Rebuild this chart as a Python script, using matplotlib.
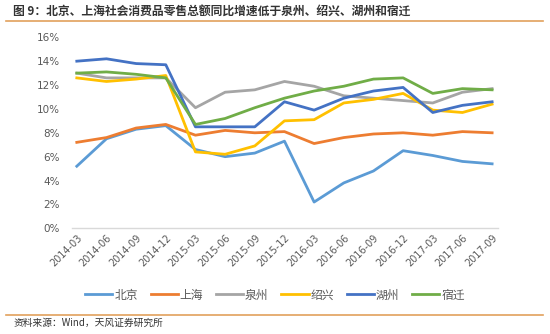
import matplotlib
matplotlib.use("Agg")
import matplotlib.pyplot as plt
from matplotlib.ticker import FuncFormatter, MultipleLocator

plt.rcParams['font.family'] = ['Noto Sans CJK SC', 'DejaVu Sans']

dates = ["2014-03", "2014-06", "2014-09", "2014-12", "2015-03", "2015-06", "2015-09",
         "2015-12", "2016-03", "2016-06", "2016-09", "2016-12", "2017-03", "2017-06", "2017-09"]

beijing = [5.2, 7.5, 8.3, 8.6, 6.6, 6.0, 6.3, 7.3, 2.2, 3.8, 4.8, 6.5, 6.1, 5.6, 5.4]
shanghai = [7.2, 7.6, 8.4, 8.7, 7.8, 8.2, 8.0, 8.1, 7.1, 7.6, 7.9, 8.0, 7.8, 8.1, 8.0]
quanzhou = [13.0, 12.6, 12.6, 12.6, 10.1, 11.4, 11.6, 12.3, 11.9, 11.1, 10.9, 10.7, 10.5, 11.4, 11.7]
shaoxing = [12.6, 12.3, 12.5, 12.8, 6.4, 6.2, 6.9, 9.0, 9.1, 10.5, 10.8, 11.3, 9.9, 9.7, 10.4]
huzhou = [14.0, 14.2, 13.8, 13.7, 8.5, 8.5, 8.5, 10.6, 9.9, 10.9, 11.5, 11.8, 9.7, 10.3, 10.6]
suqian = [13.0, 13.1, 12.9, 12.6, 8.7, 9.2, 10.1, 10.9, 11.5, 11.9, 12.5, 12.6, 11.3, 11.7, 11.6]

series = [("北京", beijing, "#5B9BD5"),
          ("上海", shanghai, "#ED7D31"),
          ("泉州", quanzhou, "#A5A5A5"),
          ("绍兴", shaoxing, "#FFC000"),
          ("湖州", huzhou, "#4472C4"),
          ("宿迁", suqian, "#70AD47")]

title = "图 9：北京、上海社会消费品零售总额同比增速低于泉州、绍兴、湖州和宿迁"
source = "资料来源：Wind，天风证券研究所"

fig = plt.figure(figsize=(5.5, 3.34), dpi=100)
ax = fig.add_axes([0.131, 0.3165, 0.774, 0.5718])

x = list(range(len(dates)))
for name, vals, col in series:
    ax.plot(x, vals, color=col, lw=2.0, label=name, solid_joinstyle='round')

ax.set_ylim(0, 16)
ax.set_xlim(-0.16, 14.19)
ax.yaxis.set_major_locator(MultipleLocator(2))
ax.yaxis.set_major_formatter(FuncFormatter(lambda v, p: f"{v:.0f}%"))
ax.set_xticks(x)
ax.set_xticklabels(dates, rotation=45, ha='right', va='top', rotation_mode='anchor',
                   family=['DejaVu Sans'], fontsize=7, color='#595959')
for lab in ax.get_yticklabels():
    lab.set_family(['DejaVu Sans'])
ax.tick_params(axis='y', length=0, labelsize=7.5, labelcolor='#595959', pad=9)
ax.tick_params(axis='x', length=0, pad=3)
for s in ['top', 'right', 'left']:
    ax.spines[s].set_visible(False)
ax.spines['bottom'].set_color('#D9D9D9')
ax.spines['bottom'].set_linewidth(1.0)

leg = fig.legend(loc='center', bbox_to_anchor=(0.5, 1 - 295 / 334), ncol=6, frameon=False,
                 fontsize=8.5, handlelength=2.3, handletextpad=0.15, columnspacing=1.1,
                 labelcolor='#595959')

fig.text(0.024, 1 - 11 / 334, title, fontsize=8.5, fontweight='bold', color='#333333',
         va='center', ha='left')
fig.add_artist(plt.Line2D([0.01, 0.988], [1 - 21 / 334] * 2, color='#E1A15C', lw=1.2,
                          transform=fig.transFigure))
fig.add_artist(plt.Line2D([0.01, 0.988], [1 - 314.5 / 334] * 2, color='#E1A15C', lw=1.2,
                          transform=fig.transFigure))
fig.text(0.024, 1 - 323 / 334, source, fontsize=7, color='#333333', va='center', ha='left')

fig.savefig("out.png", dpi=100)
